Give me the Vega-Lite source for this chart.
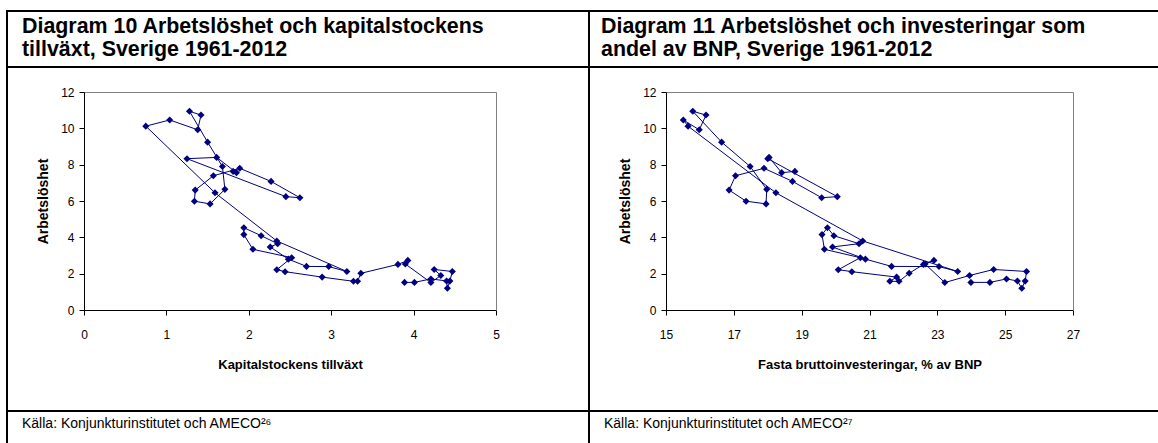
{
  "$schema": "https://vega.github.io/schema/vega-lite/v6.json",
  "padding": {"left": 6, "top": 10, "right": 0, "bottom": 0},
  "background": "white",
  "datasets": {
    "series": [
      {"year": 1961, "cap": 3.89, "inv": 23.99, "u": 1.52},
      {"year": 1962, "cap": 4.01, "inv": 24.55, "u": 1.52},
      {"year": 1963, "cap": 4.21, "inv": 25.04, "u": 1.71},
      {"year": 1964, "cap": 4.40, "inv": 25.36, "u": 1.60},
      {"year": 1965, "cap": 4.41, "inv": 25.49, "u": 1.20},
      {"year": 1966, "cap": 4.44, "inv": 25.59, "u": 1.59},
      {"year": 1967, "cap": 4.47, "inv": 25.63, "u": 2.12},
      {"year": 1968, "cap": 4.25, "inv": 24.66, "u": 2.23},
      {"year": 1969, "cap": 4.33, "inv": 23.95, "u": 1.90},
      {"year": 1970, "cap": 4.21, "inv": 23.22, "u": 1.51},
      {"year": 1971, "cap": 3.90, "inv": 22.64, "u": 2.53},
      {"year": 1972, "cap": 3.93, "inv": 22.90, "u": 2.73},
      {"year": 1973, "cap": 3.81, "inv": 22.59, "u": 2.51},
      {"year": 1974, "cap": 3.36, "inv": 22.17, "u": 2.02},
      {"year": 1975, "cap": 3.32, "inv": 21.87, "u": 1.58},
      {"year": 1976, "cap": 3.27, "inv": 21.60, "u": 1.58},
      {"year": 1977, "cap": 2.89, "inv": 21.80, "u": 1.81},
      {"year": 1978, "cap": 2.44, "inv": 20.48, "u": 2.11},
      {"year": 1979, "cap": 2.34, "inv": 20.08, "u": 2.22},
      {"year": 1980, "cap": 2.52, "inv": 20.73, "u": 2.88},
      {"year": 1981, "cap": 2.05, "inv": 19.67, "u": 3.34},
      {"year": 1982, "cap": 1.94, "inv": 19.60, "u": 4.15},
      {"year": 1983, "cap": 1.94, "inv": 19.76, "u": 4.53},
      {"year": 1984, "cap": 2.15, "inv": 19.95, "u": 4.09},
      {"year": 1985, "cap": 2.35, "inv": 20.69, "u": 3.65},
      {"year": 1986, "cap": 2.26, "inv": 19.91, "u": 3.47},
      {"year": 1987, "cap": 2.48, "inv": 20.88, "u": 2.80},
      {"year": 1988, "cap": 2.70, "inv": 21.65, "u": 2.40},
      {"year": 1989, "cap": 2.97, "inv": 23.05, "u": 2.39},
      {"year": 1990, "cap": 3.19, "inv": 23.60, "u": 2.12},
      {"year": 1991, "cap": 2.34, "inv": 20.80, "u": 3.80},
      {"year": 1992, "cap": 1.59, "inv": 18.24, "u": 6.45},
      {"year": 1993, "cap": 0.75, "inv": 15.65, "u": 10.12},
      {"year": 1994, "cap": 1.04, "inv": 15.51, "u": 10.46},
      {"year": 1995, "cap": 1.38, "inv": 15.98, "u": 9.92},
      {"year": 1996, "cap": 1.42, "inv": 16.18, "u": 10.73},
      {"year": 1997, "cap": 1.28, "inv": 15.79, "u": 10.94},
      {"year": 1998, "cap": 1.50, "inv": 16.64, "u": 9.24},
      {"year": 1999, "cap": 1.68, "inv": 17.48, "u": 7.90},
      {"year": 2000, "cap": 1.71, "inv": 17.97, "u": 6.64},
      {"year": 2001, "cap": 1.53, "inv": 17.95, "u": 5.84},
      {"year": 2002, "cap": 1.34, "inv": 17.36, "u": 5.99},
      {"year": 2003, "cap": 1.35, "inv": 16.86, "u": 6.60},
      {"year": 2004, "cap": 1.57, "inv": 17.05, "u": 7.39},
      {"year": 2005, "cap": 1.89, "inv": 17.89, "u": 7.80},
      {"year": 2006, "cap": 2.27, "inv": 18.73, "u": 7.08},
      {"year": 2007, "cap": 2.62, "inv": 19.59, "u": 6.18},
      {"year": 2008, "cap": 2.45, "inv": 20.05, "u": 6.24},
      {"year": 2009, "cap": 1.25, "inv": 18.00, "u": 8.33},
      {"year": 2010, "cap": 1.61, "inv": 18.04, "u": 8.40},
      {"year": 2011, "cap": 1.85, "inv": 18.41, "u": 7.56},
      {"year": 2012, "cap": 1.81, "inv": 18.80, "u": 7.63}
    ]
  },
  "columns": 2,
  "spacing": 0,
  "bounds": "flush",
  "resolve": {"scale": {"x": "independent", "y": "independent"}},
  "concat": [
    {
      "width": 582, "height": 56,
      "data": {"values": [{"label": "Diagram 10 Arbetslöshet och kapitalstockens\ntillväxt, Sverige 1961-2012"}]},
      "mark": {"type": "text", "align": "left", "baseline": "middle", "dx": 15, "fontSize": 21.4, "fontWeight": "bold", "lineHeight": 23, "lineBreak": "\n", "color": "black", "font": "Liberation Sans"},
      "encoding": {
        "text": {"field": "label"},
        "x": {"datum": 0, "type": "quantitative", "scale": {"domain": [0, 1]}, "axis": null},
        "y": {"datum": 0.71, "type": "quantitative", "scale": {"domain": [0, 1]}, "axis": null}
      }
    },
    {
      "width": 582, "height": 56,
      "data": {"values": [{"label": "Diagram 11 Arbetslöshet och investeringar som\nandel av BNP, Sverige 1961-2012"}]},
      "mark": {"type": "text", "align": "left", "baseline": "middle", "dx": 12, "fontSize": 21.4, "fontWeight": "bold", "lineHeight": 23, "lineBreak": "\n", "color": "black", "font": "Liberation Sans"},
      "encoding": {
        "text": {"field": "label"},
        "x": {"datum": 0, "type": "quantitative", "scale": {"domain": [0, 1]}, "axis": null},
        "y": {"datum": 0.71, "type": "quantitative", "scale": {"domain": [0, 1]}, "axis": null}
      }
    },
    {
      "width": 582, "height": 344,
      "data": {"name": "series"},
      "resolve": {"axis": {"x": "independent", "y": "independent"}},
      "layer": [
        {
          "mark": {"type": "line", "color": "#000080", "strokeWidth": 1},
          "encoding": {
            "x": {"field": "cap", "type": "quantitative", "scale": {"domain": [0, 5], "range": [77, 489], "nice": false, "zero": false},
              "axis": {"orient": "bottom", "offset": -101, "values": [0, 1, 2, 3, 4, 5], "grid": false, "domainColor": "black", "tickColor": "black", "tickSize": 5, "labelPadding": 14, "labelFontSize": 12, "labelColor": "black", "labelFont": "Liberation Sans", "labelFlush": false, "title": "Kapitalstockens tillväxt", "titleFont": "Liberation Sans", "titleFontSize": 13, "titleFontWeight": "bold", "titleColor": "black", "titlePadding": 18}},
            "y": {"field": "u", "type": "quantitative", "scale": {"domain": [0, 12], "range": [243, 25], "nice": false, "zero": false},
              "axis": {"orient": "left", "offset": -77, "values": [0, 2, 4, 6, 8, 10, 12], "grid": false, "domainColor": "black", "tickColor": "black", "tickSize": 5, "labelPadding": 5, "labelFontSize": 12, "labelColor": "black", "labelFont": "Liberation Sans", "labelFlush": false, "title": "Arbetslöshet", "titleFont": "Liberation Sans", "titleFontSize": 14, "titleFontWeight": "bold", "titleColor": "black", "titlePadding": 10}},
            "order": {"field": "year", "type": "quantitative"}
          }
        },
        {
          "mark": {"type": "point", "shape": "diamond", "filled": true, "color": "#000080", "size": 50, "opacity": 1},
          "encoding": {
            "x": {"field": "cap", "type": "quantitative", "axis": {"orient": "top", "offset": -25, "domainColor": "#808080", "ticks": false, "labels": false, "grid": false, "title": null}},
            "y": {"field": "u", "type": "quantitative", "axis": {"orient": "right", "offset": -93, "domainColor": "#808080", "ticks": false, "labels": false, "grid": false, "title": null}}
          }
        }
      ]
    },
    {
      "width": 582, "height": 344,
      "data": {"name": "series"},
      "resolve": {"axis": {"x": "independent", "y": "independent"}},
      "layer": [
        {
          "mark": {"type": "line", "color": "#000080", "strokeWidth": 1},
          "encoding": {
            "x": {"field": "inv", "type": "quantitative", "scale": {"domain": [15, 27], "range": [77, 484], "nice": false, "zero": false},
              "axis": {"orient": "bottom", "offset": -101, "values": [15, 17, 19, 21, 23, 25, 27], "grid": false, "domainColor": "black", "tickColor": "black", "tickSize": 5, "labelPadding": 14, "labelFontSize": 12, "labelColor": "black", "labelFont": "Liberation Sans", "labelFlush": false, "title": "Fasta bruttoinvesteringar, % av BNP", "titleFont": "Liberation Sans", "titleFontSize": 13, "titleFontWeight": "bold", "titleColor": "black", "titlePadding": 18}},
            "y": {"field": "u", "type": "quantitative", "scale": {"domain": [0, 12], "range": [243, 25], "nice": false, "zero": false},
              "axis": {"orient": "left", "offset": -77, "values": [0, 2, 4, 6, 8, 10, 12], "grid": false, "domainColor": "black", "tickColor": "black", "tickSize": 5, "labelPadding": 5, "labelFontSize": 12, "labelColor": "black", "labelFont": "Liberation Sans", "labelFlush": false, "title": "Arbetslöshet", "titleFont": "Liberation Sans", "titleFontSize": 14, "titleFontWeight": "bold", "titleColor": "black", "titlePadding": 10}},
            "order": {"field": "year", "type": "quantitative"}
          }
        },
        {
          "mark": {"type": "point", "shape": "diamond", "filled": true, "color": "#000080", "size": 50, "opacity": 1},
          "encoding": {
            "x": {"field": "inv", "type": "quantitative", "axis": {"orient": "top", "offset": -25, "domainColor": "#808080", "ticks": false, "labels": false, "grid": false, "title": null}},
            "y": {"field": "u", "type": "quantitative", "axis": {"orient": "right", "offset": -98, "domainColor": "#808080", "ticks": false, "labels": false, "grid": false, "title": null}}
          }
        }
      ]
    },
    {
      "width": 582, "height": 40,
      "data": {"values": [{"label": "Källa: Konjunkturinstitutet och AMECO²⁶"}]},
      "mark": {"type": "text", "align": "left", "baseline": "middle", "dx": 15, "fontSize": 14, "color": "black", "font": "Liberation Sans"},
      "encoding": {
        "text": {"field": "label"},
        "x": {"datum": 0, "type": "quantitative", "scale": {"domain": [0, 1]}, "axis": null},
        "y": {"datum": 27, "type": "quantitative", "scale": {"domain": [0, 40]}, "axis": null}
      }
    },
    {
      "width": 582, "height": 40,
      "data": {"values": [{"label": "Källa: Konjunkturinstitutet och AMECO²⁷"}]},
      "mark": {"type": "text", "align": "left", "baseline": "middle", "dx": 15, "fontSize": 14, "color": "black", "font": "Liberation Sans"},
      "encoding": {
        "text": {"field": "label"},
        "x": {"datum": 0, "type": "quantitative", "scale": {"domain": [0, 1]}, "axis": null},
        "y": {"datum": 27, "type": "quantitative", "scale": {"domain": [0, 40]}, "axis": null}
      }
    }
  ],
  "config": {
    "view": {"stroke": "black", "strokeWidth": 2},
    "font": "Liberation Sans"
  }
}
